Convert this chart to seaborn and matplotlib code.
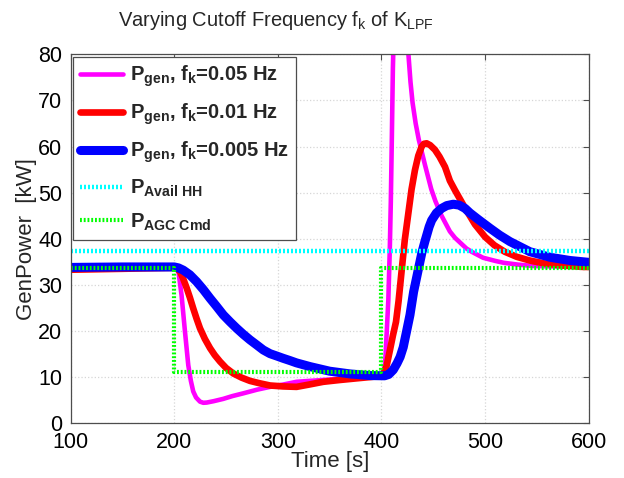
import matplotlib
matplotlib.use("Agg")
import matplotlib.pyplot as plt
import seaborn as sns
from matplotlib import font_manager

# time [s] and power [kW]
t_fast = [100, 150, 195, 200, 202, 204, 207, 210.3, 213.5, 216, 218.3, 221, 224.8, 228, 231.3, 238,
          247.3, 256, 266.6, 280, 292.4, 305, 318, 343.8, 376, 398, 402, 403.5, 405, 406.6, 408, 409,
          410, 411, 412, 413, 415, 418, 421, 424, 426, 428, 430, 433, 436, 442, 448, 452, 458, 466,
          471, 482, 487, 498, 510, 518, 532, 547, 570, 600]
p_fast = [33.3, 33.5, 33.7, 33.7, 33.4, 32.9, 27.8, 19.9, 12.6, 9.2, 6.9, 5.6, 4.7, 4.45, 4.5, 4.8,
          5.3, 5.9, 6.5, 7.3, 7.9, 8.4, 9.0, 9.4, 9.9, 10.1, 10.8, 13.0, 19.5, 26.7, 37.5, 48.0,
          62.0, 77.0, 86.0, 88.0, 90.0, 91.0, 89.0, 84.0, 80.0, 74.0, 69.5, 65.0, 61.5, 56.0, 50.8, 48.2, 45.0, 41.6,
          40.2, 37.9, 37.2, 35.9, 35.2, 34.8, 34.4, 34.1, 34.0, 34.0]

t_mid = [100, 150, 195, 200, 202, 205.5, 208.5, 212, 215, 218.3, 221.5, 224.8, 229.5, 234.5, 239,
         244.1, 250, 257, 265, 273, 282, 292.4, 305, 318, 330, 343.8, 360, 376, 390, 398.6, 402, 405,
         408.2, 411, 414, 416.5, 419.5, 422.5, 425.9, 429, 432.3, 435.5, 438.8, 441, 443.6, 447,
         451.6, 456, 461.3, 466, 471, 480.6, 490.3, 500, 509, 519, 530.5, 543, 556, 575, 595, 600]
p_mid = [33.3, 33.5, 33.7, 33.7, 33.6, 32.9, 31.4, 29.3, 27.3, 24.9, 22.7, 20.6, 18.3, 16.3, 14.8,
         13.4, 12.0, 10.8, 9.9, 9.2, 8.7, 8.2, 8.0, 7.9, 8.4, 9.0, 9.4, 9.75, 10.05, 10.25, 10.8, 12.5,
         15.9, 19.0, 22.0, 26.5, 33.2, 39.8, 45.5, 50.7, 54.9, 58.0, 60.0, 60.6, 60.7, 60.3,
         59.3, 57.8, 55.6, 52.6, 50.5, 46.7, 43.1, 40.4, 38.6, 37.2, 36.1, 35.3, 34.7, 34.2, 33.9, 33.9]

t_slow = [100, 150, 195, 200, 204, 208.7, 215, 221.6, 228, 234.5, 241, 247.3, 253.8, 260.2, 266.6,
          273, 279.5, 285.9, 292.4, 298.8, 305, 311.7, 318, 331, 350, 370, 389, 403, 407, 411.4, 415,
          418, 421, 424, 427.5, 431, 435.5, 439, 442, 446, 448.4, 453, 458.1, 463, 469.3, 475, 480.6,
          485.4, 493.4, 504.7, 514, 524, 543.3, 562.6, 582, 600]
p_slow = [33.8, 33.9, 33.9, 33.9, 33.7, 33.2, 32.2, 30.7, 29.0, 27.1, 25.3, 23.5, 22.0, 20.6, 19.3,
          18.1, 17.0, 15.9, 15.1, 14.6, 14.1, 13.6, 13.1, 12.3, 11.3, 10.7, 10.35, 10.3, 10.6, 11.6, 13.0,
          14.4, 16.5, 19.7, 23.5, 28.5, 33.3, 37.0, 39.5, 42.6, 44.0, 45.6, 46.6, 47.2, 47.5, 47.3, 46.6,
          45.6, 44.2, 42.3, 40.8, 39.4, 37.2, 36.0, 35.3, 34.9]

t_avail = [100, 600]
p_avail = [37.4, 37.4]

t_agc = [100, 200, 200, 400, 400, 600]
p_agc = [33.7, 33.7, 11.2, 11.2, 33.7, 33.7]

labels = [r"$\mathbf{P_{gen}}$, $\mathbf{f_k}$=0.05 Hz",
          r"$\mathbf{P_{gen}}$, $\mathbf{f_k}$=0.01 Hz",
          r"$\mathbf{P_{gen}}$, $\mathbf{f_k}$=0.005 Hz",
          r"$\mathbf{P_{Avail\ HH}}$",
          r"$\mathbf{P_{AGC\ Cmd}}$"]

sns.set_theme(style="white")
plt.rcParams["font.family"] = ["Liberation Sans", "DejaVu Sans"]
plt.rcParams["mathtext.fontset"] = "custom"
plt.rcParams["mathtext.rm"] = "Liberation Sans"
plt.rcParams["mathtext.it"] = "Liberation Sans:italic"
plt.rcParams["mathtext.bf"] = "Liberation Sans:bold"

installed = {f.name for f in font_manager.fontManager.ttflist}
title_font = "Liberation Sans Narrow" if "Liberation Sans Narrow" in installed else "Liberation Sans"

fig = plt.figure(figsize=(6.24, 4.78), dpi=100)
ax = fig.add_axes([0.1133, 0.1144, 0.8301, 0.7720])

dots = (0, (0.45, 0.45))
sns.lineplot(x=t_fast, y=p_fast, ax=ax, color="#ff00ff", lw=3.3, label=labels[0], estimator=None, sort=False)
sns.lineplot(x=t_mid, y=p_mid, ax=ax, color="#ff0000", lw=4.8, label=labels[1], estimator=None, sort=False)
sns.lineplot(x=t_slow, y=p_slow, ax=ax, color="#0000ff", lw=6.5, label=labels[2], estimator=None, sort=False)
sns.lineplot(x=t_avail, y=p_avail, ax=ax, color="#00ffff", lw=3.2, ls=dots, label=labels[3], estimator=None, sort=False)
sns.lineplot(x=t_agc, y=p_agc, ax=ax, color="#00ff00", lw=3.0, ls=dots, label=labels[4], estimator=None, sort=False)

ax.set_xlim(100, 600)
ax.set_ylim(0, 80)
ax.set_xticks(range(100, 601, 100))
ax.set_yticks(range(0, 81, 10))
ax.grid(True, color="0.84", ls=":", lw=0.9)
for s in ax.spines.values():
    s.set_color("0.3")
    s.set_linewidth(0.9)
ax.tick_params(direction="in", length=4, width=0.8, color="0.3", top=True, right=True,
               labelsize=15.5, labelcolor="black", pad=6)
ax.set_xlabel("Time [s]", fontsize=16, labelpad=-1)
ax.set_ylabel("GenPower  [kW]", fontsize=16, labelpad=1)

fig.text(276 / 624, 1 - 26.5 / 478, r"Varying Cutoff Frequency f$_\mathrm{k}$ of K$_\mathrm{LPF}$",
         ha="center", va="baseline", fontsize=14.5, family=title_font)

leg = ax.legend(loc="upper left", prop={"weight": "bold", "size": 14.5},
                borderaxespad=0.12, handlelength=2.15, handletextpad=0.3, labelspacing=0.62,
                borderpad=0.35, frameon=True, fancybox=False, framealpha=1)
leg.get_frame().set_edgecolor("0.3")
leg.get_frame().set_linewidth(0.9)

fig.savefig("out.png", dpi=100)
